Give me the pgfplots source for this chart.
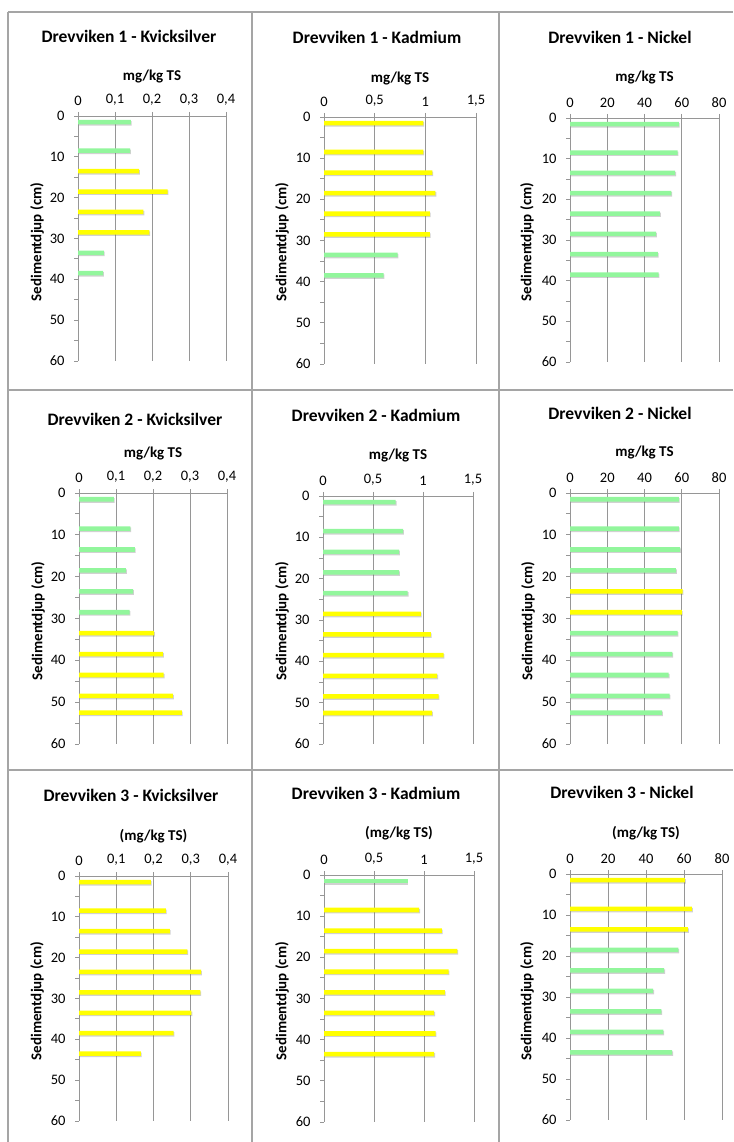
\documentclass[border=0pt]{standalone}
\usepackage{fontspec}
\setmainfont{Carlito}
\usepackage{pgfplots}
\pgfplotsset{compat=1.18}
\usetikzlibrary{shadows}
\definecolor{lgreen}{RGB}{146,246,156}
\definecolor{lyellow}{RGB}{255,255,0}
\definecolor{gridgray}{RGB}{150,150,150}
\definecolor{boxgray}{RGB}{165,165,165}
\pgfplotsset{
 panel/.style={
  scale only axis, xbar, bar width=1.1, bar shift=0pt,
  y dir=reverse, ymin=0, ymax=60, xmin=0, enlargelimits=false,
  ytick={0,10,...,60}, minor ytick={5,15,...,55},
  axis x line*=top, axis y line*=left,
  axis line style={draw=gridgray, line width=0.9pt},
  tick style={draw=gridgray, line width=0.9pt},
  tick align=outside, major tick length=4pt, minor tick length=4pt,
  xmajorgrids, grid style={draw=gridgray, line width=0.9pt},
  ticklabel style={font=\fontsize{14.5}{16}\selectfont, text=black},
  yticklabel style={xshift=-6pt},
  xticklabel style={yshift=3pt},
  /pgf/number format/assume math mode=true,
  /pgf/number format/use comma,
  clip=false,
 },
 g/.style={draw=none, fill=lgreen, drop shadow={shadow xshift=0.8pt, shadow yshift=-1.2pt, opacity=0.3, fill=black!60}},
 yel/.style={draw=none, fill=lyellow, drop shadow={shadow xshift=0.8pt, shadow yshift=-1.2pt, opacity=0.3, fill=black!60}},
 hg/.style={xmax=0.4, xtick={0,0.1,0.2,0.3,0.4}},
 cd/.style={xmax=1.5, xtick={0,0.5,1,1.5}},
 ni/.style={xmax=80, xtick={0,20,40,60,80}},
}
\newcommand{\ttl}[3]{\node[anchor=base, font=\fontsize{17.5}{20}\selectfont\bfseries] at (#1pt,#2pt) {#3};}
\newcommand{\xl}[3]{\node[anchor=base, font=\fontsize{15}{18}\selectfont\bfseries] at (#1pt,#2pt) {#3};}
\newcommand{\yl}[2]{\node[rotate=90, font=\fontsize{15}{18}\selectfont\bfseries] at (#1pt,#2pt) {Sedimentdjup (cm)};}
\begin{document}
\begin{tikzpicture}
\path[use as bounding box] (0pt,0pt) rectangle (733pt,1142pt);
% panel boxes
\begin{scope}[draw=boxgray, line width=1.3pt]
\draw (8pt,1130pt) -- (733pt,1130pt);
\draw (8pt,752pt) -- (733pt,752pt);
\draw (8pt,372pt) -- (733pt,372pt);
\draw (8pt,0pt) -- (8pt,1130pt);
\draw (252pt,0pt) -- (252pt,1130pt);
\draw (499pt,0pt) -- (499pt,1130pt);
\end{scope}

% ---------- Row 1 ----------
\begin{axis}[panel, hg, at={(78pt,781pt)}, anchor=south west, width=148pt, height=245pt]
\addplot[g] coordinates {(0.143,1.5) (0.141,8.5) (0.070,33.5) (0.068,38.5)};
\addplot[yel] coordinates {(0.165,13.5) (0.242,18.5) (0.177,23.5) (0.193,28.5)};
\end{axis}
\begin{axis}[panel, cd, at={(324pt,778pt)}, anchor=south west, width=152pt, height=247pt]
\addplot[yel] coordinates {(0.98,1.5) (0.98,8.5) (1.07,13.5) (1.10,18.5) (1.045,23.5) (1.045,28.5)};
\addplot[g] coordinates {(0.727,33.5) (0.589,38.5)};
\end{axis}
\begin{axis}[panel, ni, at={(570pt,780pt)}, anchor=south west, width=149pt, height=244pt]
\addplot[g] coordinates {(58.4,1.5) (57.8,8.5) (56.5,13.5) (54.4,18.5) (48.3,23.5) (46.2,28.5) (47.2,33.5) (47.6,38.5)};
\end{axis}

% ---------- Row 2 ----------
\begin{axis}[panel, hg, at={(79pt,398pt)}, anchor=south west, width=148pt, height=251pt]
\addplot[g] coordinates {(0.094,1.5) (0.139,8.5) (0.151,13.5) (0.127,18.5) (0.146,23.5) (0.137,28.5)};
\addplot[yel] coordinates {(0.203,33.5) (0.227,38.5) (0.229,43.5) (0.254,48.5) (0.278,52.5)};
\end{axis}
\begin{axis}[panel, cd, at={(323pt,398pt)}, anchor=south west, width=150pt, height=248pt]
\addplot[g] coordinates {(0.727,1.5) (0.80,8.5) (0.76,13.5) (0.76,18.5) (0.847,23.5)};
\addplot[yel] coordinates {(0.978,28.5) (1.078,33.5) (1.205,38.5) (1.142,43.5) (1.155,48.5) (1.091,52.5)};
\end{axis}
\begin{axis}[panel, ni, at={(570pt,398pt)}, anchor=south west, width=149pt, height=251pt]
\addplot[g] coordinates {(58.4,1.5) (58.4,8.5) (59.1,13.5) (56.9,18.5) (57.8,33.5) (54.9,38.5) (53.0,43.5) (53.5,48.5) (49.4,52.5)};
\addplot[yel] coordinates {(60.5,23.5) (60.1,28.5)};
\end{axis}

% ---------- Row 3 ----------
\begin{axis}[panel, hg, at={(79pt,21pt)}, anchor=south west, width=149pt, height=245pt]
\addplot[yel] coordinates {(0.193,1.5) (0.233,8.5) (0.244,13.5) (0.291,18.5) (0.328,23.5) (0.326,28.5) (0.302,33.5) (0.254,38.5) (0.166,43.5)};
\end{axis}
\begin{axis}[panel, cd, at={(324pt,20pt)}, anchor=south west, width=150pt, height=247pt]
\addplot[g] coordinates {(0.835,1.5)};
\addplot[yel] coordinates {(0.952,8.5) (1.179,13.5) (1.333,18.5) (1.246,23.5) (1.209,28.5) (1.102,33.5) (1.116,38.5) (1.102,43.5)};
\end{axis}
\begin{axis}[panel, ni, at={(570pt,22pt)}, anchor=south west, width=152pt, height=246pt]
\addplot[yel] coordinates {(60.5,1.5) (64.2,8.5) (62.1,13.5)};
\addplot[g] coordinates {(57.0,18.5) (49.6,23.5) (43.8,28.5) (48.1,33.5) (49.1,38.5) (53.8,43.5)};
\end{axis}

% titles
\ttl{129}{1099}{Drevviken 1 - Kvicksilver}
\ttl{377}{1098}{Drevviken 1 - Kadmium}
\ttl{620}{1098}{Drevviken 1 - Nickel}
\ttl{135}{716}{Drevviken 2 - Kvicksilver}
\ttl{376}{720}{Drevviken 2 - Kadmium}
\ttl{620}{722}{Drevviken 2 - Nickel}
\ttl{131}{340}{Drevviken 3 - Kvicksilver}
\ttl{376}{342}{Drevviken 3 - Kadmium}
\ttl{622}{343}{Drevviken 3 - Nickel}
% x labels
\xl{152}{1061}{mg/kg TS}
\xl{400}{1059}{mg/kg TS}
\xl{644.5}{1060}{mg/kg TS}
\xl{153}{684}{mg/kg TS}
\xl{398}{682}{mg/kg TS}
\xl{644.5}{685}{mg/kg TS}
\xl{153.5}{301}{(mg/kg TS)}
\xl{399}{304}{(mg/kg TS)}
\xl{646}{304}{(mg/kg TS)}
% y labels
\yl{37}{900}
\yl{282}{900}
\yl{527}{900}
\yl{38}{521}
\yl{282}{521}
\yl{528}{521}
\yl{37}{141}
\yl{282}{141}
\yl{527}{141}
\end{tikzpicture}
\end{document}
